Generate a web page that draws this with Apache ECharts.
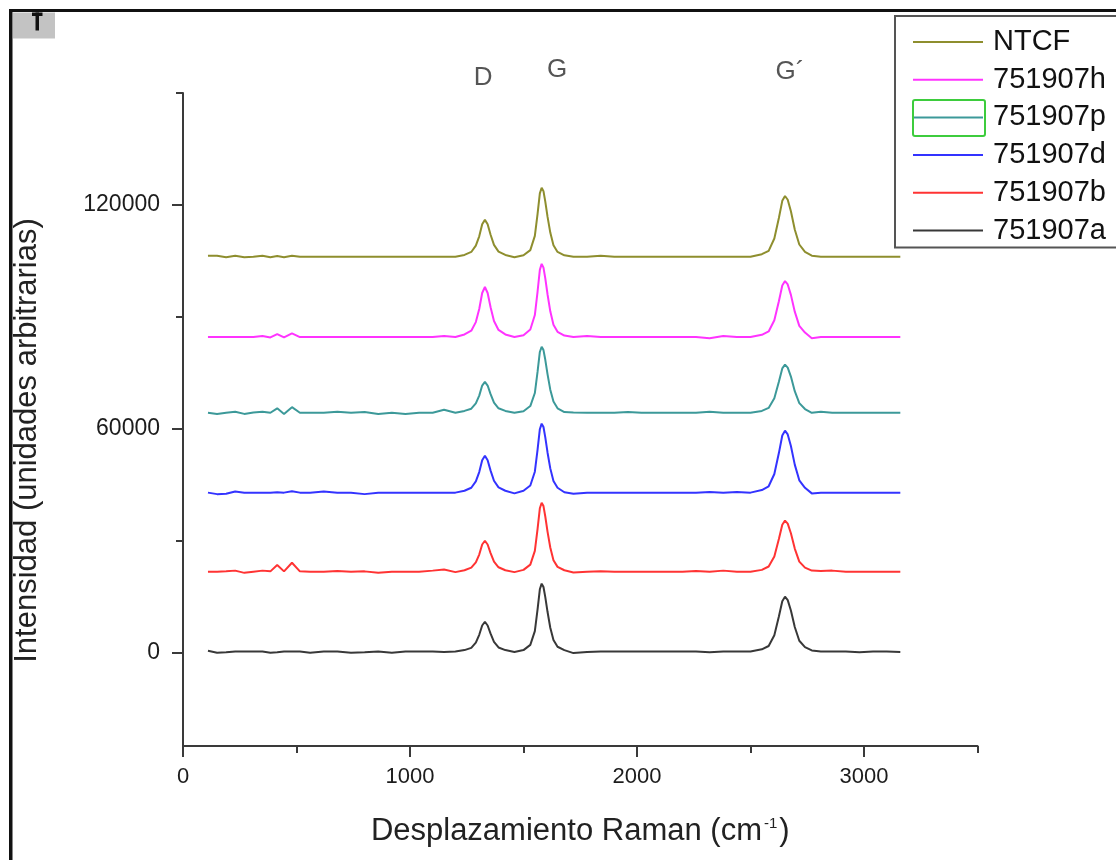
<!DOCTYPE html>
<html><head><meta charset="utf-8">
<script src="https://cdn.jsdelivr.net/npm/echarts@6/dist/echarts.min.js"></script>
<style>html,body{margin:0;padding:0;background:#fff}#c{width:1116px;height:860px}</style>
</head><body><div id="c"></div>
<script>
// Raman shift (cm-1) sample positions shared by all spectra
const wavenumbers = [110,150,190,230,270,310,350,385,415,445,480,515,
  560,620,680,740,800,860,920,980,1040,1100,1150,1200,
  1240,1270,1290,1305,1318,1330,1342,1355,1370,1390,1420,
  1460,1500,
  1530,1550,1562,1572,1580,1588,1596,1606,1618,1632,1650,1680,
  1720,1780,1840,1900,1960,2020,2080,2140,2200,2260,2320,2380,2440,2500,
  2550,2580,2605,2625,2640,2652,2664,2678,2695,2715,2740,2770,2810,
  2860,2920,2980,3040,3100,3160];

const ntcf = [106400,106400,106000,106400,106000,106100,106400,106000,106300,106000,106400,106100,
  106100,106100,106100,106100,106100,106100,106100,106100,106100,106100,106100,106100,
  106600,107400,109100,111600,114800,116000,114800,112000,109300,107500,106600,
  106000,106500,
  107900,111700,117600,123100,124600,123700,120900,116800,112600,109200,107400,106500,
  106100,106100,106400,106100,106100,106100,106100,106100,106100,106100,106100,106100,106100,106100,
  106800,107700,111000,116500,121100,122400,121400,118300,113400,109400,107400,106400,106100,
  106100,106100,106100,106100,106100,106100];

const s751907h = [84600,84600,84600,84600,84600,84600,84900,84500,85400,84500,85600,84600,
  84600,84600,84600,84600,84600,84600,84600,84600,84600,84600,84900,84600,
  85300,86300,88600,92100,96400,98000,96400,92600,88900,86500,85300,
  84600,85100,
  86600,90500,96800,102600,104200,103200,100300,96000,91500,87900,86000,85000,
  84600,84900,84600,84600,84600,84600,84600,84600,84600,84600,84300,84900,84600,84600,
  85200,86100,89100,94200,98400,99600,98700,95900,91400,87600,85800,84300,84600,
  84600,84600,84600,84600,84600,84600];

const s751907p = [64300,64000,64300,64600,64000,64400,64600,64300,65500,64000,65800,64300,
  64300,64300,64600,64300,64500,64000,64300,64000,64300,64300,65100,64300,
  64800,65400,66800,68900,71600,72600,71600,69300,67000,65500,64800,
  64300,64700,
  66100,69600,75300,80600,82000,81100,78500,74600,70500,67300,65500,64500,
  64400,64300,64300,64300,64500,64300,64300,64300,64300,64300,64600,64300,64300,64300,
  64800,65600,68200,72600,76200,77200,76400,74000,70100,66900,65300,64300,64600,
  64300,64300,64300,64300,64300,64300];

const s751907d = [42900,42500,42600,43200,42900,42900,42900,42900,43000,42900,43300,42900,
  42900,43200,42900,42900,42500,42900,42900,42900,42900,42900,42900,42900,
  43400,44200,45900,48400,51600,52800,51600,48800,46100,44300,43400,
  42700,43400,
  44800,48500,54400,59900,61400,60500,57700,53600,49400,46000,44200,43000,
  42600,42900,42900,42900,42900,42900,42900,42900,42900,42900,43100,42900,43100,42900,
  43600,44600,47900,53500,58200,59500,58500,55400,50400,46200,44200,42700,42900,
  42900,42900,42900,42900,42900,42900];

const s751907b = [21700,21700,21800,22000,21400,21700,22000,21800,23500,21800,24100,21800,
  21700,21700,21900,21700,21800,21400,21700,21700,21700,22000,22300,21600,
  22100,22800,24200,26300,29000,30000,29000,26700,24400,22900,22100,
  21600,22200,
  23600,27300,33200,38700,40200,39300,36500,32400,28200,24800,23000,22100,
  21500,21700,21800,21700,21700,21700,21700,21700,21700,21900,21700,22000,21700,21700,
  22200,23100,25800,30500,34300,35400,34600,32000,27900,24400,22800,22000,21900,
  22000,21700,21700,21700,21700,21700];

const s751907a = [500,0,100,300,300,300,300,0,100,300,300,300,
  0,300,300,0,100,300,0,300,300,300,200,300,
  700,1300,2700,4800,7300,8300,7300,5100,2900,1400,700,
  200,700,
  2100,5800,11600,17000,18500,17600,14900,10900,6700,3400,1600,700,
  -100,200,300,300,300,300,300,300,300,300,100,300,300,300,
  900,1800,4700,9700,13800,15000,14100,11300,6900,3200,1500,600,300,
  300,300,100,300,300,200];

const seriesNames = ['NTCF','751907h','751907p','751907d','751907b','751907a'];
const seriesData = [ntcf, s751907h, s751907p, s751907d, s751907b, s751907a];
const seriesColors = ['#8e8e2e','#ff33ff','#3c9999','#3333ff','#ff3333','#383838'];

// Peak annotations
const peakNames = ['D','G','G\u00b4'];
const peakX = [1322,1648,2674];
const peakY = [154000,156200,155600];

const yMajor = [0,60000,120000];
const yMinor = [30000,90000,150000];
const xMajor = [0,1000,2000,3000];
const xMinor = [500,1500,2500,3500];

const FONT = 'Liberation Sans, Arial, sans-serif';
const AXC = '#3a3a3a';

const chart = echarts.init(document.getElementById('c'), null, {renderer:'canvas'});

const series = seriesNames.map((n,i)=>({
  name:n, type:'line', xAxisIndex:0, yAxisIndex:0,
  data: wavenumbers.map((x,j)=>[x, seriesData[i][j]]),
  symbol:'none', showSymbol:false, smooth:false,
  lineStyle:{color:seriesColors[i], width:2},
  itemStyle:{color:seriesColors[i]},
  emphasis:{disabled:true}, silent:true
}));
series.push({
  type:'scatter', xAxisIndex:0, yAxisIndex:0, clip:false, silent:true,
  symbolSize:1, itemStyle:{color:'rgba(0,0,0,0)'},
  data: peakNames.map((n,i)=>[peakX[i], peakY[i], n]),
  label:{show:true, position:'inside', formatter:p=>p.value[2], fontSize:26, color:'#2a2a2a', fontFamily:FONT}
});

chart.setOption({
  animation:false,
  backgroundColor:'#fff',
  grid:{left:183, right:138.5, top:93, bottom:114, containLabel:false, outerBoundsMode:'none'},
  xAxis:[{
    type:'value', min:0, max:3500, position:'bottom',
    axisLine:{show:true, onZero:false, lineStyle:{color:AXC, width:2}},
    axisTick:{show:true, customValues:xMajor, length:11, lineStyle:{color:AXC, width:2}},
    axisLabel:{customValues:xMajor, formatter:v=>String(v), margin:20, fontSize:22, color:'#1c1c1c', fontFamily:FONT},
    splitLine:{show:false},
    name:'Desplazamiento Raman (cm{sup|-1})', nameLocation:'middle', nameGap:70,
    nameTextStyle:{fontSize:31, color:'#222', fontFamily:FONT,
      rich:{sup:{fontSize:15, color:'#222', fontFamily:FONT, padding:[0,2,16,2]}}}
  },{
    type:'value', min:0, max:3500, position:'bottom', offset:0,
    axisLine:{show:false, onZero:false},
    axisTick:{show:true, customValues:xMinor, length:7, lineStyle:{color:AXC, width:2}},
    axisLabel:{show:false}, splitLine:{show:false}
  }],
  yAxis:[{
    type:'value', min:-25000, max:150000, position:'left',
    axisLine:{show:true, onZero:false, lineStyle:{color:AXC, width:2}},
    axisTick:{show:true, customValues:yMajor, length:11, lineStyle:{color:AXC, width:2}},
    axisLabel:{customValues:yMajor, formatter:v=>String(v), margin:23, fontSize:23, color:'#1c1c1c', fontFamily:FONT},
    splitLine:{show:false},
    name:'Intensidad (unidades arbitrarias)', nameLocation:'middle', nameGap:140,
    nameTextStyle:{fontSize:31, color:'#222', fontFamily:FONT, padding:[0,42,0,0]}
  },{
    type:'value', min:-25000, max:150000, position:'left', offset:0,
    axisLine:{show:false, onZero:false},
    axisTick:{show:true, customValues:yMinor, length:7, lineStyle:{color:AXC, width:2}},
    axisLabel:{show:false}, splitLine:{show:false}
  }],
  legend:{
    data:seriesNames.map(n=>({name:n, icon:'rect'})), orient:'vertical', left:895, top:16,
    padding:[11,40,2,18], itemGap:7.7, itemWidth:70, itemHeight:2,
    borderColor:'#555', borderWidth:2, backgroundColor:'#fff',
    selectedMode:false,
    textStyle:{fontSize:29, lineHeight:30, color:'#111', fontFamily:FONT, padding:[0,0,0,5]}
  },
  graphic:[
    {type:'rect', shape:{x:9, y:9, width:1107, height:3}, style:{fill:'#111'}, silent:true},
    {type:'rect', shape:{x:9, y:9, width:3.5, height:851}, style:{fill:'#111'}, silent:true},
    {type:'rect', shape:{x:13, y:12.5, width:42, height:26}, style:{fill:'#c3c3c3'}, silent:true},
    {type:'rect', shape:{x:32, y:12.5, width:10.5, height:3.5}, style:{fill:'#111'}, silent:true},
    {type:'rect', shape:{x:35.5, y:12.5, width:3.5, height:18}, style:{fill:'#111'}, silent:true},
    {type:'rect', shape:{x:913, y:100, width:72, height:36, r:2}, style:{fill:'none', stroke:'#3dcc3d', lineWidth:2}, silent:true, z:100}
  ],
  series: series
});
</script></body></html>
